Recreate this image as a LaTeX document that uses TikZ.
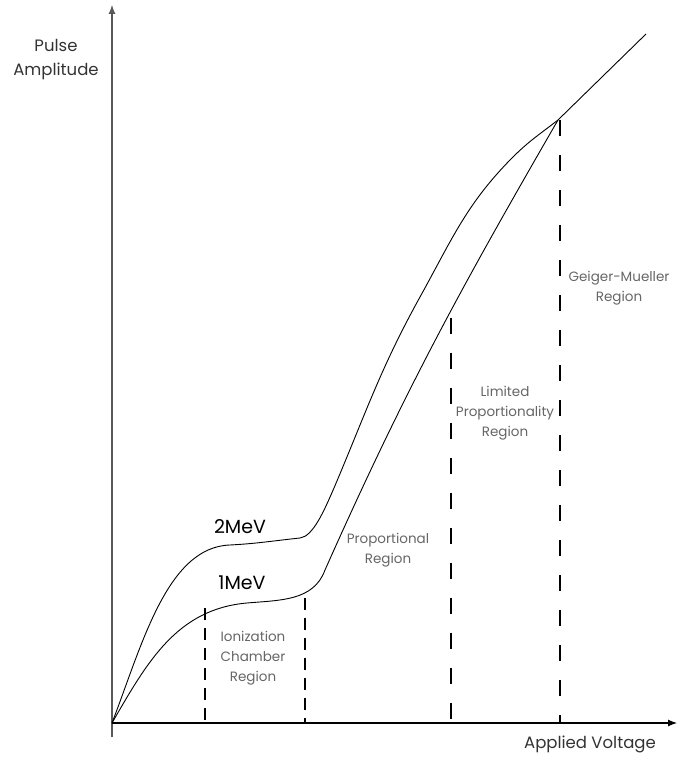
\documentclass[tikz,border=0pt]{standalone}
\usepackage{fontspec}
\setmainfont{Poppins}
\usetikzlibrary{arrows.meta}

\begin{document}
\begin{tikzpicture}[x=1pt,y=1pt,
  axislabel/.style={text=black!80, align=center, font=\fontsize{16.5}{24}\selectfont},
  regionlabel/.style={text=black!60, align=center, font=\fontsize{13.5}{20}\selectfont},
  energylabel/.style={text=black, font=\fontsize{19}{21}\selectfont},
  shortdash/.style={line width=1.4pt, dash pattern=on 12pt off 8pt},
  longdash/.style={line width=2.1pt, dash pattern=on 16pt off 19pt}]
\useasboundingbox (-112,-35) rectangle (566,723);

% axes
\draw [black!65, line width=1.1pt, -{Latex[length=9pt,width=7pt]}] (0,-14) -- (0,718);
\draw [line width=1.1pt, -{Latex[length=9pt,width=7pt]}] (0,0) -- (565,0);

% 2MeV curve
\draw [line width=0.9pt] (0,0) .. controls (30,78) and (55,176) .. (118,178)
  to [out=3,in=186] (188,185) .. controls (201,186.5) and (212,212) .. (222,235)
  to [out=67,in=241] (308,426) to [out=61,in=225] (401,566)
  to [out=45,in=218] (446,603) -- (534,689);

% 1MeV curve
\draw [line width=0.9pt] (0,0) to [out=60,in=185] (135,120) to [out=5,in=250] (213,153)
  to [out=66,in=240] (446,603);

% region boundaries
\draw [shortdash] (93,115) -- (93,0);
\draw [shortdash] (193,125) -- (193,0);
\draw [longdash] (339,405) -- (339,0);
\draw [longdash] (448,603) -- (448,0);

% labels
\node [axislabel] (pulse) at (-56,663) {Pulse\\Amplitude};
\node [axislabel] (voltage) at (478,-21) {Applied Voltage};
\node [energylabel] (twomev) at (128,196) {2MeV};
\node [energylabel] (onemev) at (130,140) {1MeV};
\node [regionlabel] (ionization) at (141,65) {Ionization\\Chamber\\Region};
\node [regionlabel] (proportional) at (276,173) {Proportional\\Region};
\node [regionlabel] (limited) at (393,310) {Limited\\Proportionality\\Region};
\node [regionlabel] (geiger) at (507,435) {Geiger-Mueller\\Region};
\end{tikzpicture}
\end{document}
